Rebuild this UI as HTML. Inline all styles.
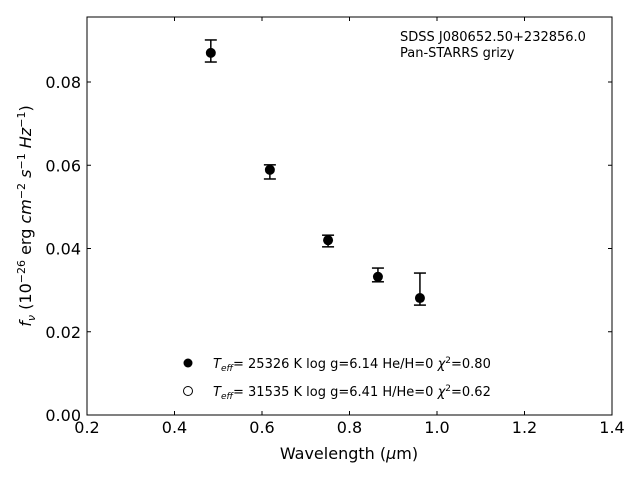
<!DOCTYPE html>
<html><head><meta charset="utf-8"><style>
body{margin:0;background:#fff}
svg text{font-family:"DejaVu Sans","Liberation Sans",sans-serif}
</style></head><body>
<svg id="chart" width="640" height="480" xmlns="http://www.w3.org/2000/svg">
<rect x="87" y="17" width="525" height="398" fill="none" stroke="#000" stroke-width="1"/>
<g id="xt"></g>
<g id="yt"></g>
<g id="pts"></g>
<text x="349" y="459" font-size="16" text-anchor="middle">Wavelength (<tspan font-style="italic">μ</tspan>m)</text>
<text transform="translate(31,216) rotate(-90)" font-size="16" text-anchor="middle"><tspan font-style="italic">f<tspan font-size="11" dy="4">ν</tspan></tspan><tspan dy="-4"> (10</tspan><tspan font-size="11" dy="-6">−26</tspan><tspan dy="6"> erg </tspan><tspan font-style="italic">cm</tspan><tspan font-size="11" dy="-6">−2</tspan><tspan dy="6"> </tspan><tspan font-style="italic">s</tspan><tspan font-size="11" dy="-6">−1</tspan><tspan dy="6"> </tspan><tspan font-style="italic">Hz</tspan><tspan font-size="11" dy="-6">−1</tspan><tspan dy="6">)</tspan></text>
<text x="400" y="41" font-size="13">SDSS J080652.50+232856.0</text>
<text x="400" y="57" font-size="13">Pan-STARRS grizy</text>
<g>
<circle cx="188" cy="363" r="4.5" fill="#000"/>
<text x="213" y="368" font-size="13"><tspan font-style="italic">T<tspan font-size="9" dy="3">eff</tspan></tspan><tspan dy="-3">= 25326 K  log g=6.14  He/H=0  </tspan><tspan font-style="italic">χ</tspan><tspan font-size="9" dy="-5">2</tspan><tspan dy="5">=0.80</tspan></text>
<circle cx="188" cy="391" r="4.5" fill="none" stroke="#000" stroke-width="1"/>
<text x="213" y="396" font-size="13"><tspan font-style="italic">T<tspan font-size="9" dy="3">eff</tspan></tspan><tspan dy="-3">= 31535 K  log g=6.41  H/He=0  </tspan><tspan font-style="italic">χ</tspan><tspan font-size="9" dy="-5">2</tspan><tspan dy="5">=0.62</tspan></text>
</g>
</svg>
<script>
const wavelengths=[0.483,0.618,0.751,0.865,0.961];
const fluxes=[0.0870,0.0589,0.0420,0.0332,0.0281];
const errUpper=[0.0031,0.0012,0.0012,0.0021,0.0060];
const errLower=[0.0022,0.0022,0.0016,0.0012,0.0017];
const xTicks=[0.2,0.4,0.6,0.8,1.0,1.2,1.4];
const yTicks=[0,0.02,0.04,0.06,0.08];
const NS="http://www.w3.org/2000/svg";
const X=v=>87+(v-0.2)/1.2*525;
const Y=v=>415-v/0.02*83.25;
function mk(t,a,p){const e=document.createElementNS(NS,t);for(const k in a)e.setAttribute(k,a[k]);p.appendChild(e);return e;}
const xt=document.getElementById('xt'),yt=document.getElementById('yt'),pts=document.getElementById('pts');
xTicks.forEach(v=>{const x=X(v);
const a=mk('line',{x1:x,x2:x,y1:415,y2:411,stroke:'#000'},xt);

const b=mk('line',{x1:x,x2:x,y1:17,y2:21,stroke:'#000'},xt);

const t=mk('text',{x:x,y:433,'font-size':16,'text-anchor':'middle'},xt);t.textContent=v.toFixed(1);
});
yTicks.forEach(v=>{const y=Y(v);
const a=mk('line',{x1:87,x2:91,y1:y,y2:y,stroke:'#000'},yt);

const b=mk('line',{x1:608,x2:612,y1:y,y2:y,stroke:'#000'},yt);

const t=mk('text',{x:81,y:y+6,'font-size':16,'text-anchor':'end'},yt);t.textContent=v.toFixed(2);
});
wavelengths.forEach((w,i)=>{const x=X(w),y=Y(fluxes[i]),yu=Y(fluxes[i]+errUpper[i]),yl=Y(fluxes[i]-errLower[i]);
const g=mk('g',{},pts);

mk('line',{x1:x,x2:x,y1:yu,y2:yl,stroke:'#000','stroke-width':1.5},g);
mk('line',{x1:x-6,x2:x+6,y1:yu,y2:yu,stroke:'#000','stroke-width':1.5},g);
mk('line',{x1:x-6,x2:x+6,y1:yl,y2:yl,stroke:'#000','stroke-width':1.5},g);
mk('circle',{cx:x,cy:y,r:5,fill:'#000'},g);});
</script>
</body></html>
